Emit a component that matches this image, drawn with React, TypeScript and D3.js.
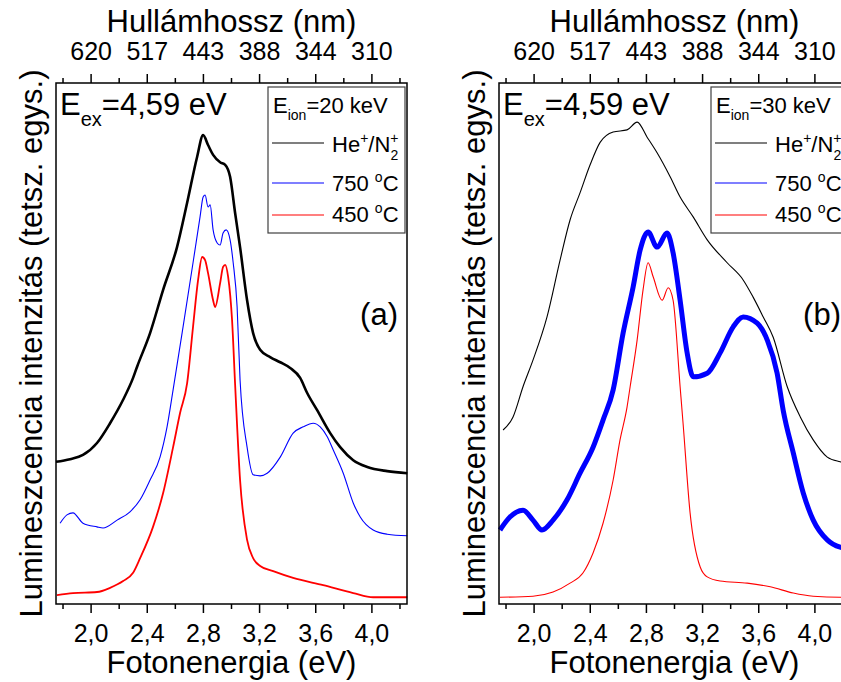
import React from 'react';
import * as d3 from 'd3';

const W = 841;
const H = 682;

// Tick positions (photon energy, eV) and labels
const majorTicks = [2.0, 2.4, 2.8, 3.2, 3.6, 4.0];
const minorTicks = [1.8, 2.2, 2.6, 3.0, 3.4, 3.8, 4.2];
const bottomLabels = ['2,0', '2,4', '2,8', '3,2', '3,6', '4,0'];
const topLabels = ['620', '517', '443', '388', '344', '310'];

// Panel (a): E_ion = 20 keV   [energy eV, intensity a.u.]
const heA: [number, number][] = [
  [1.75, 27.3], [1.85, 27.8], [1.942, 28.6], [2.042, 30.9], [2.135, 34.7], [2.228, 39.2],
  [2.299, 43.4], [2.327, 45.5], [2.42, 52.0], [2.513, 60.3], [2.612, 68.5], [2.684, 77.0],
  [2.755, 85.8], [2.798, 90.0], [2.833, 88.1], [2.869, 86.2], [2.919, 84.8], [2.955, 84.3],
  [2.99, 82.0], [3.026, 75.0], [3.061, 68.5], [3.111, 58.3], [3.154, 52.0], [3.204, 48.8],
  [3.275, 47.4], [3.347, 46.4], [3.418, 45.3], [3.489, 43.4], [3.539, 40.5], [3.61, 37.2],
  [3.703, 32.8], [3.774, 30.1], [3.867, 27.6], [3.967, 26.3], [4.109, 25.5], [4.252, 25.1],
];
const t750A: [number, number][] = [
  [1.779, 15.5], [1.828, 17.1], [1.871, 17.5], [1.942, 15.5], [2.042, 14.8], [2.085, 14.6],
  [2.185, 16.1], [2.277, 17.7], [2.349, 20.0], [2.42, 23.8], [2.491, 28.2], [2.541, 34.0],
  [2.584, 41.1], [2.655, 53.2], [2.726, 65.5], [2.776, 74.3], [2.798, 78.1], [2.812, 78.5],
  [2.833, 76.2], [2.848, 76.6], [2.869, 71.8], [2.898, 69.3], [2.919, 68.9], [2.94, 71.2],
  [2.962, 71.8], [2.99, 69.9], [3.012, 65.5], [3.04, 57.0], [3.061, 43.0], [3.111, 30.1],
  [3.154, 24.8], [3.204, 24.6], [3.254, 25.1], [3.347, 28.2], [3.439, 32.8], [3.51, 34.0],
  [3.582, 34.7], [3.632, 34.0], [3.682, 32.1], [3.724, 29.6], [3.796, 25.1], [3.867, 19.4],
  [3.917, 16.7], [4.009, 14.2], [4.109, 13.4], [4.252, 13.1],
];
const t450A: [number, number][] = [
  [1.757, 1.7], [1.871, 2.1], [2.042, 2.3], [2.135, 3.1], [2.228, 4.4], [2.299, 6.0],
  [2.349, 8.8], [2.441, 14.8], [2.513, 21.3], [2.584, 30.1], [2.634, 36.7], [2.684, 42.4],
  [2.726, 53.2], [2.762, 62.2], [2.791, 66.6], [2.812, 66.0], [2.833, 63.5], [2.869, 58.3],
  [2.883, 57.0], [2.919, 61.6], [2.94, 64.7], [2.955, 65.1], [2.976, 62.8], [3.004, 54.5],
  [3.026, 42.0], [3.061, 23.8], [3.111, 12.3], [3.154, 8.8], [3.204, 7.3], [3.297, 6.3],
  [3.439, 5.0], [3.653, 3.6], [3.867, 2.1], [4.009, 1.3], [4.252, 1.3],
];

// Panel (b): E_ion = 30 keV
const heB: [number, number][] = [
  [1.779, 33.4], [1.85, 35.9], [1.921, 41.7], [1.992, 46.8], [2.092, 55.1], [2.185, 66.0],
  [2.256, 73.7], [2.327, 78.9], [2.399, 84.3], [2.47, 88.6], [2.563, 90.6], [2.662, 91.0],
  [2.734, 92.5], [2.805, 89.6], [2.876, 86.6], [2.969, 82.0], [3.04, 78.1], [3.133, 74.3],
  [3.233, 69.9], [3.375, 65.5], [3.489, 62.2], [3.56, 58.9], [3.632, 55.1], [3.703, 51.2],
  [3.803, 41.7], [3.896, 35.9], [3.988, 31.5], [4.088, 28.2], [4.18, 27.3], [4.252, 26.9],
];
const t750B: [number, number][] = [
  [1.757, 14.2], [1.828, 16.7], [1.921, 18.0], [1.992, 16.1], [2.056, 14.2], [2.135, 16.1],
  [2.235, 20.0], [2.327, 25.1], [2.42, 30.1], [2.491, 35.3], [2.563, 41.1], [2.634, 52.0],
  [2.705, 60.8], [2.755, 67.9], [2.812, 71.4], [2.876, 68.5], [2.947, 71.2], [2.99, 67.4],
  [3.04, 58.3], [3.09, 48.2], [3.133, 43.6], [3.233, 44.3], [3.325, 48.2], [3.418, 53.2],
  [3.489, 55.1], [3.589, 53.9], [3.66, 50.7], [3.731, 44.3], [3.774, 37.2], [3.846, 29.0],
  [3.917, 21.3], [3.988, 16.1], [4.088, 12.3], [4.18, 10.9], [4.252, 10.6],
];
const t450B: [number, number][] = [
  [1.757, 1.3], [1.992, 1.5], [2.135, 2.3], [2.256, 4.0], [2.349, 6.0], [2.42, 9.8],
  [2.491, 15.5], [2.563, 23.8], [2.612, 31.5], [2.662, 37.8], [2.684, 41.7], [2.734, 50.7],
  [2.776, 60.3], [2.812, 65.5], [2.848, 62.8], [2.912, 58.3], [2.955, 60.7], [2.99, 58.3],
  [3.04, 41.7], [3.061, 34.7], [3.111, 17.5], [3.183, 7.1], [3.233, 5.2], [3.325, 4.4],
  [3.518, 4.0], [3.682, 3.3], [3.846, 2.1], [3.988, 1.5], [4.18, 1.3], [4.252, 1.3],
];

const FONT = '"Liberation Sans", Arial, Helvetica, sans-serif';

type Series = { data: [number, number][]; color: string; width: number };

function Panel({ dx, ion, tag, series }: { dx: number; ion: string; tag: string; series: Series[] }) {
  const left = 56 + dx;
  const right = 407 + dx;
  const top = 83;
  const bottom = 604;
  const x = d3.scaleLinear().domain([1.75, 4.25]).range([left, right]);
  const y = d3.scaleLinear().domain([0, 100]).range([bottom, top]);
  const line = d3
    .line<[number, number]>()
    .x((d) => x(d[0]))
    .y((d) => y(d[1]))
    .curve(d3.curveMonotoneX);
  const cx = (left + right) / 2;
  const lgX = 268 + dx;
  return (
    <g fontFamily={FONT} fill="#000">
      {series.map((s, i) => (
        <path key={i} d={line(s.data) || ''} fill="none" stroke={s.color} strokeWidth={s.width} strokeLinejoin="round" />
      ))}
      <rect x={left} y={top} width={right - left} height={bottom - top} fill="none" stroke="#000" strokeWidth={1.5} />
      {majorTicks.map((t, i) => (
        <g key={'M' + i}>
          <line x1={x(t)} x2={x(t)} y1={bottom} y2={bottom + 9} stroke="#000" strokeWidth={1.5} />
          <line x1={x(t)} x2={x(t)} y1={top} y2={top - 9} stroke="#000" strokeWidth={1.5} />
          <text x={x(t)} y={642} fontSize={25} textAnchor="middle">{bottomLabels[i]}</text>
          <text x={x(t)} y={60} fontSize={25} textAnchor="middle">{topLabels[i]}</text>
        </g>
      ))}
      {minorTicks.map((t, i) => (
        <g key={'m' + i}>
          <line x1={x(t)} x2={x(t)} y1={bottom} y2={bottom + 5} stroke="#000" strokeWidth={1.5} />
          <line x1={x(t)} x2={x(t)} y1={top} y2={top - 5} stroke="#000" strokeWidth={1.5} />
        </g>
      ))}
      <text x={cx} y={673} fontSize={31} textAnchor="middle">Fotonenergia (eV)</text>
      <text x={cx} y={32} fontSize={31} textAnchor="middle">Hullámhossz (nm)</text>
      <text transform={`translate(${42 + dx},${(top + bottom) / 2}) rotate(-90)`} fontSize={31} textAnchor="middle">
        Lumineszcencia intenzitás (tetsz. egys.)
      </text>
      <text x={60 + dx} y={115} fontSize={31}>
        E<tspan fontSize={20} dy={11}>ex</tspan><tspan dy={-11}>=4,59 eV</tspan>
      </text>
      <text x={right - 9} y={325} fontSize={31} textAnchor="end">{tag}</text>
      {/* legend */}
      <rect x={lgX} y={87} width={137} height={146} fill="#fff" stroke="#404040" strokeWidth={1.2} />
      <text x={lgX + 5} y={113} fontSize={22}>
        E<tspan fontSize={14} dy={7}>ion</tspan><tspan dy={-7}>={ion} keV</tspan>
      </text>
      {series.map((s, i) => {
        const ly = [143, 183, 215][i];
        return (
          <line key={'l' + i} x1={lgX + 4} x2={lgX + 56} y1={ly} y2={ly} stroke={s.color} strokeWidth={1.2} />
        );
      })}
      <text x={lgX + 64} y={152} fontSize={22}>
        He<tspan fontSize={14} dy={-9}>+</tspan><tspan dy={9}>/N</tspan>
        <tspan fontSize={14} dy={-9}>+</tspan><tspan fontSize={14} dx={-8} dy={17}>2</tspan>
      </text>
      <text x={lgX + 64} y={191} fontSize={22}>
        750 <tspan fontSize={14} dy={-9}>o</tspan><tspan dy={9}>C</tspan>
      </text>
      <text x={lgX + 64} y={222} fontSize={22}>
        450 <tspan fontSize={14} dy={-9}>o</tspan><tspan dy={9}>C</tspan>
      </text>
    </g>
  );
}

export default function App() {
  return (
    <svg width={W} height={H} style={{ position: 'absolute', left: 0, top: 0, background: '#fff' }}>
      <rect width={W} height={H} fill="#fff" />
      <Panel
        dx={0}
        ion="20"
        tag="(a)"
        series={[
          { data: heA, color: '#000', width: 2.6 },
          { data: t750A, color: '#0000ff', width: 1.1 },
          { data: t450A, color: '#ff0000', width: 1.8 },
        ]}
      />
      <Panel
        dx={443}
        ion="30"
        tag="(b)"
        series={[
          { data: heB, color: '#000', width: 1.1 },
          { data: t750B, color: '#0000ff', width: 5 },
          { data: t450B, color: '#ff0000', width: 1.1 },
        ]}
      />
    </svg>
  );
}
